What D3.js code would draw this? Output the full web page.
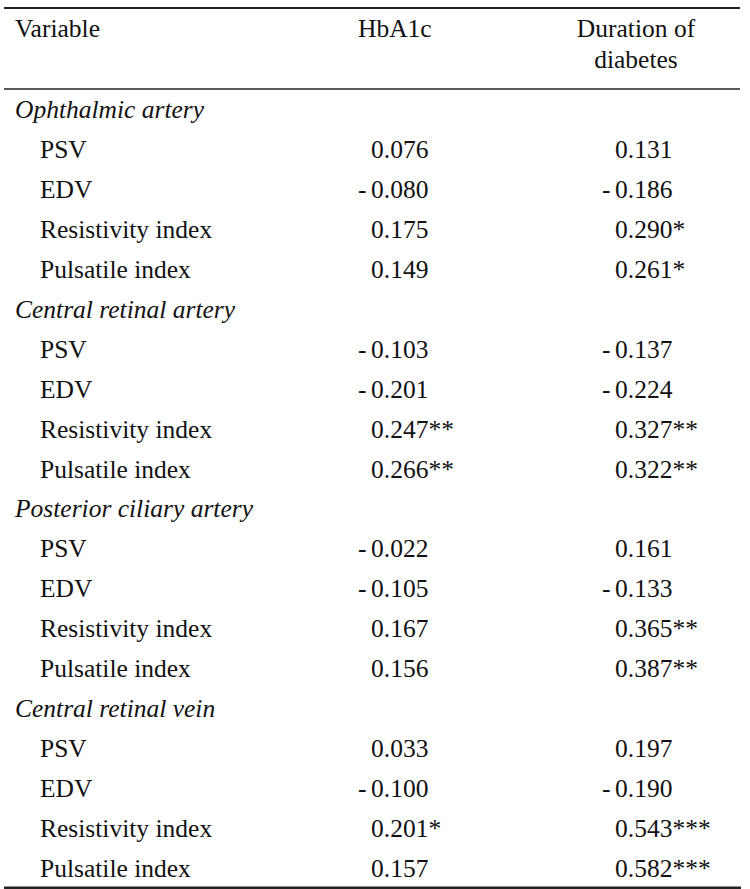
<!DOCTYPE html>
<html><head><meta charset="utf-8">
<script src="https://cdn.jsdelivr.net/npm/d3@7"></script>
<style>
html,body{margin:0;padding:0;background:#fff;}
svg text{font-family:"Liberation Serif","Times New Roman",serif;font-size:25.5px;fill:#111;}
</style></head>
<body>
<svg id="chart" width="750" height="889"></svg>
<script>
const headers = ["Variable", "HbA1c", "Duration of", "diabetes"];
const groups = ["Ophthalmic artery", "Central retinal artery", "Posterior ciliary artery", "Central retinal vein"];
const variables = ["PSV", "EDV", "Resistivity index", "Pulsatile index"];
const hba1c = [0.076, -0.080, 0.175, 0.149, -0.103, -0.201, 0.247, 0.266, -0.022, -0.105, 0.167, 0.156, 0.033, -0.100, 0.201, 0.157];
const hba1cSig = ["", "", "", "", "", "", "**", "**", "", "", "", "", "", "", "*", ""];
const duration = [0.131, -0.186, 0.290, 0.261, -0.137, -0.224, 0.327, 0.322, 0.161, -0.133, 0.365, 0.387, 0.197, -0.190, 0.543, 0.582];
const durationSig = ["", "", "*", "*", "", "", "**", "**", "", "", "**", "**", "", "", "***", "***"];

const svg = d3.select("#chart");
const fmt = d3.format(".3f");

const rows = [];
groups.forEach((g, gi) => {
  rows.push({type: "group", label: g});
  variables.forEach((v, vi) => {
    const k = gi * variables.length + vi;
    rows.push({type: "var", label: v, h: hba1c[k], hs: hba1cSig[k], d: duration[k], ds: durationSig[k]});
  });
});

const y = d3.scaleLinear().domain([0, rows.length - 1]).range([118, 877]);
const x = d3.scaleOrdinal().domain(["group", "var", "hba1c", "duration"]).range([15, 40, 371, 615]);

svg.append("line").attr("x1", 4).attr("x2", 740).attr("y1", 8).attr("y2", 8).attr("stroke", "#222").attr("stroke-width", 2);
svg.append("line").attr("x1", 4).attr("x2", 740).attr("y1", 89).attr("y2", 89).attr("stroke", "#222").attr("stroke-width", 1.5);
svg.append("line").attr("x1", 4).attr("x2", 741).attr("y1", 888).attr("y2", 888).attr("stroke", "#222").attr("stroke-width", 3);

svg.append("text").attr("x", 15).attr("y", 37).text(headers[0]);
svg.append("text").attr("x", 358).attr("y", 37).text(headers[1]);
svg.append("text").attr("x", 636).attr("y", 37).attr("text-anchor", "middle").text(headers[2]);
svg.append("text").attr("x", 636).attr("y", 68).attr("text-anchor", "middle").text(headers[3]);

const g = svg.selectAll("g.row").data(rows).join("g").attr("class", "row")
  .attr("transform", (d, i) => `translate(0,${y(i)})`);

g.append("text")
  .attr("x", d => x(d.type))
  .style("font-style", d => d.type === "group" ? "italic" : null)
  .text(d => d.label);

function addVal(sel, key, sigKey, col) {
  const vs = sel.filter(d => d.type === "var");
  vs.filter(d => d[key] < 0).append("text").attr("x", x(col) - 13).text("-");
  vs.append("text").attr("x", x(col))
    .text(d => fmt(Math.abs(d[key])) + d[sigKey]);
}
addVal(g, "h", "hs", "hba1c");
addVal(g, "d", "ds", "duration");
</script>
</body></html>
